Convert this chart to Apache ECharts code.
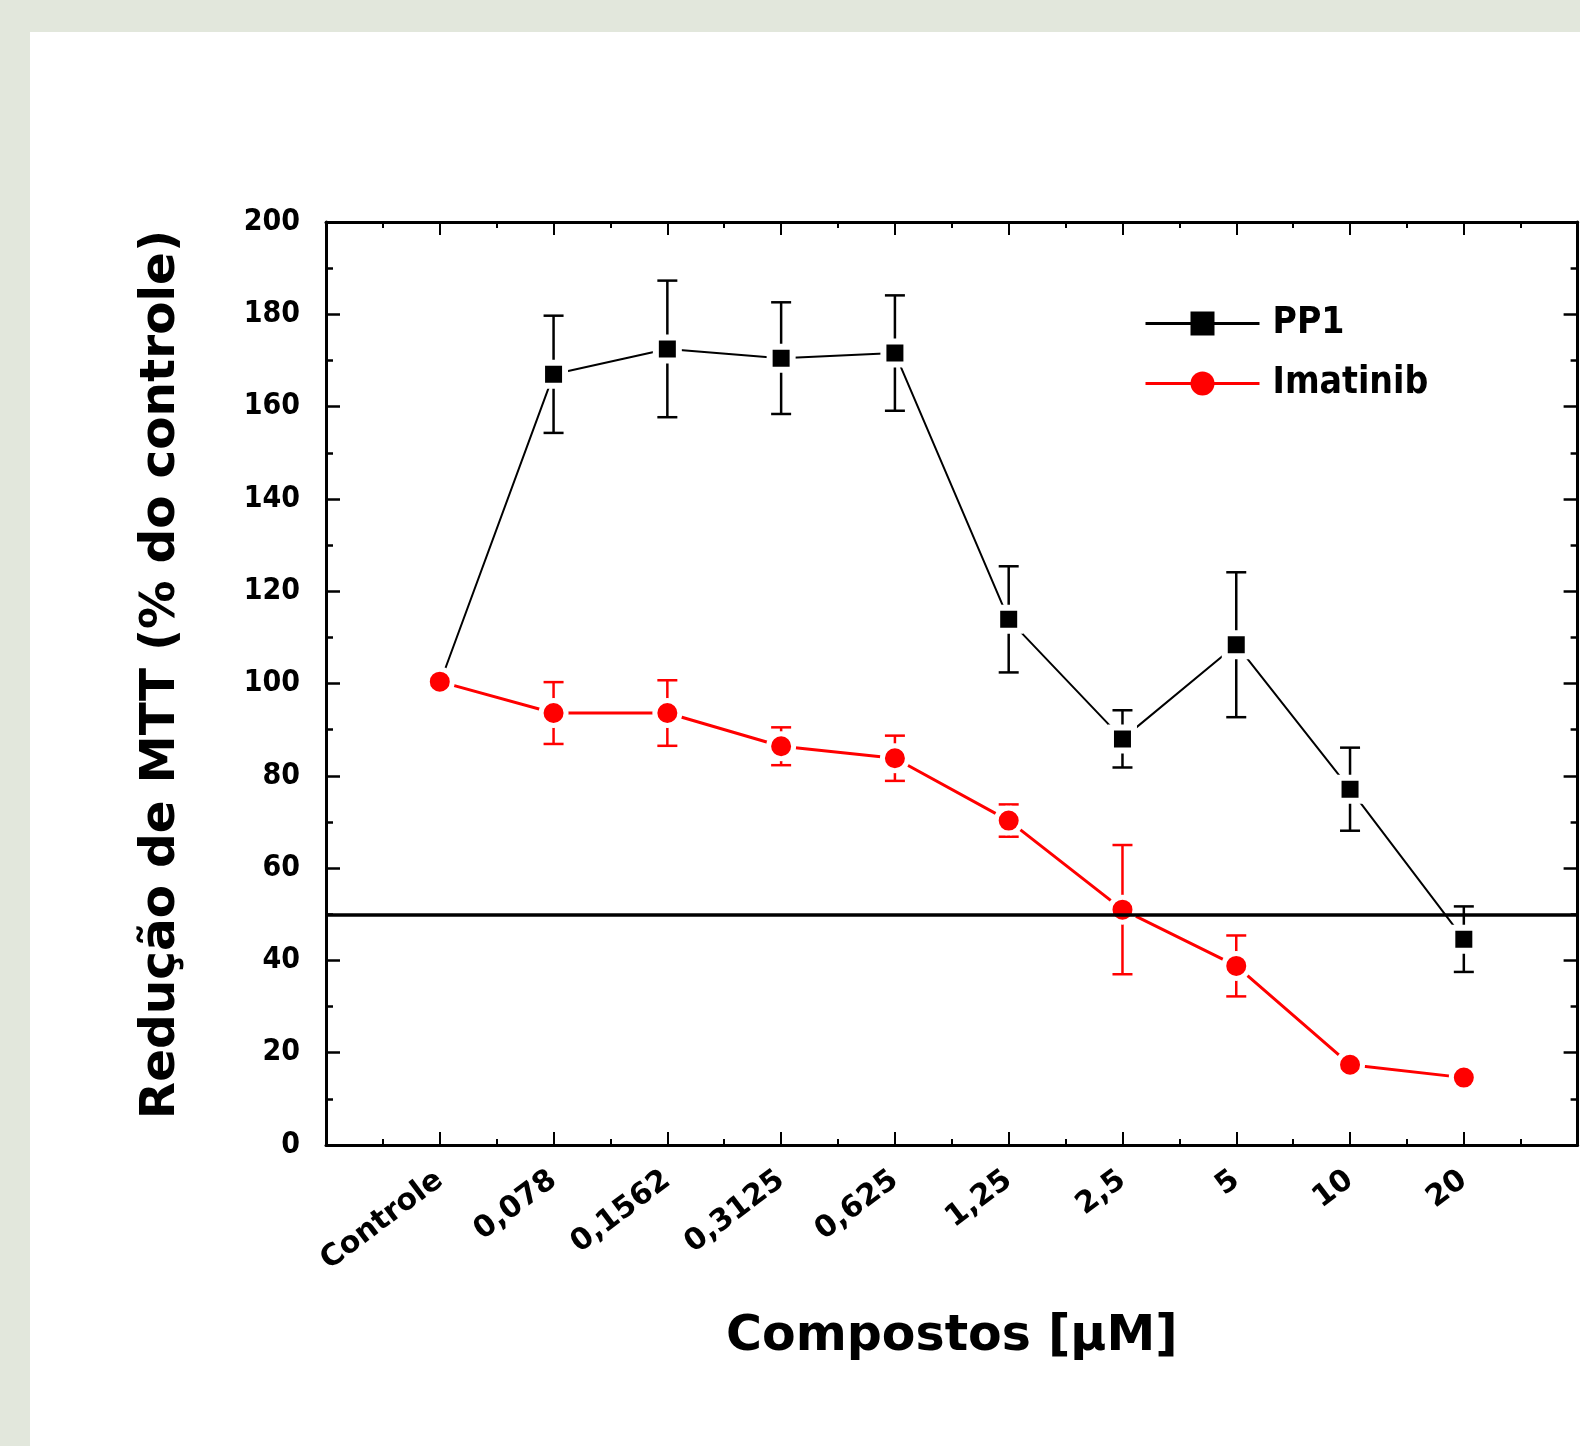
<!DOCTYPE html>
<html>
<head>
<meta charset="utf-8">
<script src="https://cdn.jsdelivr.net/npm/echarts@6/dist/echarts.min.js"></script>
<style>
  html, body { margin: 0; padding: 0; background: #e2e7dc; }
  #chart { width: 1580px; height: 1446px; }
</style>
</head>
<body>
<div id="chart"></div>
<script>
const categories = ['Controle', '0,078', '0,1562', '0,3125', '0,625', '1,25', '2,5', '5', '10', '20'];
const pp1Mean = [100, 167, 172.5, 170.5, 171.6, 113.9, 88, 108.4, 77.1, 44.6];
const pp1Err  = [0, 12.7, 14.8, 12.1, 12.5, 11.5, 6.2, 15.7, 9, 7.1];
const imaMean = [100.4, 93.6, 93.6, 86.4, 83.8, 70.3, 51, 38.8, 17.4, 14.6];
const imaErr  = [0, 6.7, 7.1, 4.1, 4.9, 3.5, 14, 6.6, 0, 0];
const yTicks = [0, 20, 40, 60, 80, 100, 120, 140, 160, 180, 200];
const refLine = 50;

const FONT = 'DejaVu Sans';
const FONT_C = 'DejaVu Sans Condensed';

function pts(mean) { return mean.map((v, i) => [i + 1, v]); }
function errData(mean, err) { return mean.map((v, i) => [i + 1, v - err[i], v + err[i]]); }

function errRender(color) {
  return function (params, api) {
    const x = api.value(0);
    const lo = api.coord([x, api.value(1)]);
    const hi = api.coord([x, api.value(2)]);
    if (Math.abs(hi[1] - lo[1]) < 1) return null;
    const hw = 10;
    const st = { stroke: color, lineWidth: 2.5 };
    return {
      type: 'group',
      children: [
        { type: 'line', shape: { x1: lo[0], y1: lo[1], x2: hi[0], y2: hi[1] }, style: st },
        { type: 'line', shape: { x1: lo[0] - hw, y1: lo[1], x2: lo[0] + hw, y2: lo[1] }, style: st },
        { type: 'line', shape: { x1: hi[0] - hw, y1: hi[1], x2: hi[0] + hw, y2: hi[1] }, style: st }
      ]
    };
  };
}

const axisCommonX = {
  type: 'value', min: 0, max: 11, interval: 1,
  axisLine: { show: true, onZero: false, lineStyle: { color: '#000', width: 3 } },
  axisTick: { show: true, inside: true, length: 13, lineStyle: { color: '#000', width: 2 } },
  minorTick: { show: true, splitNumber: 2, length: 6, lineStyle: { color: '#000', width: 2 } },
  splitLine: { show: false }
};
const axisCommonY = {
  type: 'value', min: 0, max: 200, interval: 20,
  axisLine: { show: true, onZero: false, lineStyle: { color: '#000', width: 3 } },
  axisTick: { show: true, inside: true, length: 14, lineStyle: { color: '#000', width: 2.5 } },
  minorTick: { show: true, splitNumber: 2, length: 7, lineStyle: { color: '#000', width: 2.5 } },
  splitLine: { show: false }
};

const chart = echarts.init(document.getElementById('chart'), null, { renderer: 'canvas' });
chart.setOption({
  backgroundColor: '#e2e7dc',
  animation: false,
  graphic: [{
    type: 'rect', z: -10, silent: true,
    shape: { x: 30, y: 32, width: 1550, height: 1414 },
    style: { fill: '#ffffff' }
  }],
  grid: { left: 326, top: 222, right: 2, bottom: 301, containLabel: false },
  legend: {
    orient: 'vertical', left: 1139, top: 300,
    itemWidth: 114, itemHeight: 30, itemGap: 23,
    data: ['PP1', 'Imatinib'],
    itemStyle: { borderWidth: 0 },
    lineStyle: { width: 3 },
    textStyle: { fontFamily: FONT_C, fontWeight: 'bold', fontSize: 37, color: '#000', padding: [0, 0, 0, 8] }
  },
  xAxis: [
    Object.assign({}, axisCommonX, {
      position: 'bottom',
      axisLabel: {
        rotate: 37, margin: 32,
        fontFamily: FONT, fontWeight: 'bold', fontSize: 30, color: '#000',
        formatter: v => categories[v - 1] || ''
      },
      name: 'Compostos [µM]', nameLocation: 'middle', nameGap: 168,
      nameTextStyle: { fontFamily: FONT, fontWeight: 'bold', fontSize: 49, color: '#000' }
    }),
    Object.assign({}, axisCommonX, { position: 'top', axisLabel: { show: false } })
  ],
  yAxis: [
    Object.assign({}, axisCommonY, {
      position: 'left',
      axisLabel: {
        margin: 26, fontFamily: FONT_C, fontWeight: 'bold', fontSize: 30, color: '#000',
        formatter: v => (yTicks.indexOf(v) >= 0 ? String(v) : '')
      },
      name: 'Redução de MTT (% do controle)', nameLocation: 'middle', nameGap: 140,
      nameTextStyle: { fontFamily: FONT, fontWeight: 'bold', fontSize: 48.5, color: '#000', padding: [0, 0, 0, 18] }
    }),
    Object.assign({}, axisCommonY, { position: 'right', axisLabel: { show: false } })
  ],
  series: [
    {
      name: 'PP1err', type: 'custom', xAxisIndex: 0, yAxisIndex: 0, z: 2,
      renderItem: errRender('#000'), data: errData(pp1Mean, pp1Err), silent: true
    },
    {
      name: 'Imaerr', type: 'custom', xAxisIndex: 0, yAxisIndex: 0, z: 2,
      renderItem: errRender('#ff0000'), data: errData(imaMean, imaErr), silent: true
    },
    {
      name: 'PP1', type: 'line', z: 3, data: pts(pp1Mean),
      symbol: 'rect', symbolSize: 23,
      lineStyle: { color: '#000', width: 2 },
      itemStyle: { color: '#000', borderColor: '#fff', borderWidth: 6 },
      markLine: {
        silent: true, symbol: ['none', 'none'], label: { show: false },
        lineStyle: { color: '#000', width: 3.5, type: 'solid' },
        data: [{ yAxis: refLine }]
      }
    },
    {
      name: 'Imatinib', type: 'line', z: 4, data: pts(imaMean),
      symbol: 'circle', symbolSize: 25,
      lineStyle: { color: '#ff0000', width: 3 },
      itemStyle: { color: '#ff0000', borderColor: '#fff', borderWidth: 5 }
    }
  ]
});
</script>
</body>
</html>
